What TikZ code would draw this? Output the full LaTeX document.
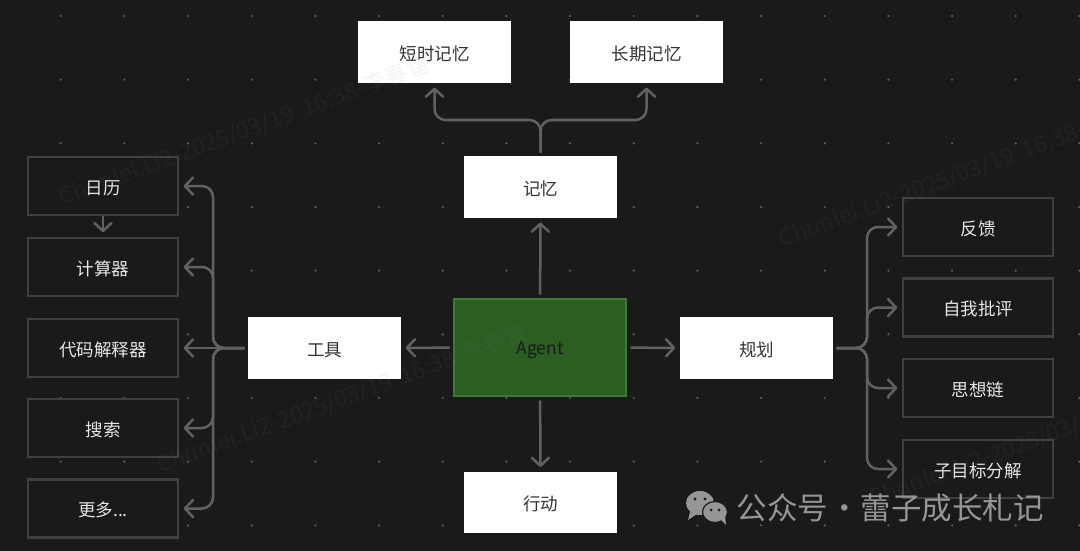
\documentclass[tikz,border=0pt]{standalone}
\usepackage{fontspec}
\setmainfont{Noto Sans CJK SC}
\usetikzlibrary{arrows.meta,calc}
\definecolor{bgc}{HTML}{1A1A1A}
\definecolor{dotc}{HTML}{606060}
\definecolor{edgec}{HTML}{404040}
\definecolor{linec}{HTML}{616161}
\definecolor{lighttext}{HTML}{E6E6E6}
\definecolor{darktext}{HTML}{333333}
\definecolor{greenfill}{HTML}{2B5F22}
\definecolor{greenedge}{HTML}{3E7A33}
\definecolor{brand}{HTML}{969696}
\tikzset{
  x=1pt,y=-1pt,
  boxtext/.style={text height=18pt,text depth=1.6pt,font=\fontsize{17.5pt}{20pt}\selectfont},
  lightbox/.style={boxtext,draw=none,fill=white,minimum width=153pt,minimum height=61.5pt,inner sep=0pt,text=darktext},
  darkbox/.style={boxtext,draw=edgec,line width=2.4pt,fill=bgc,minimum width=150pt,minimum height=58pt,inner sep=0pt,text=lighttext},
  agentbox/.style={text height=15pt,text depth=2pt,font=\fontsize{17.5pt}{20pt}\selectfont,draw=greenedge,line width=2pt,fill=greenfill,minimum width=172pt,minimum height=97pt,inner sep=0pt,text=bgc},
  conn/.style={draw=linec,line width=2.5pt,rounded corners=11pt,line join=round,-{Straight Barb[length=8pt,width=17pt,line width=2.5pt,round]},shorten >=4.5pt,shorten <=3.5pt},
  griddot/.style={fill=dotc},
  watermark/.style={text=gray,text opacity=.08,anchor=west,rotate=20,font=\fontsize{23pt}{26pt}\selectfont,inner sep=0pt},
}
\begin{document}
\begin{tikzpicture}
\useasboundingbox (0,0) rectangle (1080,551);
\fill[bgc] (0,0) rectangle (1080,551);
\foreach \i in {0,...,16}{\foreach \j in {0,...,8}{
  \fill[griddot] ({60.7+63.67*\i},{16+63.67*\j}) circle (1.2pt);
}}
% nodes
\node[agentbox] (agent) at (540,347.5) {Agent};
\node[lightbox] (tool) at (324.5,348) {工具};
\node[lightbox] (plan) at (756.5,348) {规划};
\node[lightbox] (mem) at (540.5,187) {记忆};
\node[lightbox] (act) at (540.5,502.5) {行动};
\node[lightbox] (stm) at (434.5,52) {短时记忆};
\node[lightbox] (ltm) at (646.5,52) {长期记忆};
\node[darkbox] (cal) at (103,186) {日历};
\node[darkbox] (calc) at (103,267) {计算器};
\node[darkbox] (code) at (103,348) {代码解释器};
\node[darkbox] (search) at (103,428) {搜索};
\node[darkbox] (more) at (103,508.5) {更多...};
\node[darkbox] (fb) at (978,227) {反馈};
\node[darkbox] (crit) at (978,307.5) {自我批评};
\node[darkbox] (cot) at (978,388) {思想链};
\node[darkbox] (sub) at (978,469) {子目标分解};
% junction helpers
\coordinate (ltrunk) at (213,348);
\coordinate (rtrunk) at (867,348);
\coordinate (ttrunk) at (540.5,120);
% connectors
\draw[conn] (agent) -- (mem);
\draw[conn] (agent) -- (act);
\draw[conn] (agent) -- (tool);
\draw[conn] (agent) -- (plan);
\draw[conn,shorten <=0pt] (cal.south) -- (calc.north);
\draw[conn] (tool.west) -- (code.east);
\foreach \t in {cal,calc,search,more}{
  \draw[conn] (tool.west) -- (ltrunk) -- (ltrunk |- \t.east) -- (\t.east);
}
\foreach \t in {fb,crit,cot,sub}{
  \draw[conn] (plan.east) -- (rtrunk) -- (rtrunk |- \t.west) -- (\t.west);
}
\foreach \t in {stm,ltm}{
  \draw[conn] (mem.north) -- (ttrunk) -- (ttrunk -| \t.south) -- (\t.south);
}
% watermarks
\begin{scope}
\clip (0,0) rectangle (1080,551);
\node[watermark] (wa) at (60,198) {Chunlei.Li2-2025/03/19\ \ 16:38-李春雷};
\node[watermark] (wb) at (158,466) {Chunlei.Li2-2025/03/19\ \ 16:38-李春雷};
\node[watermark] (wc) at (780,240) {Chunlei.Li2-2025/03/19\ \ 16:38-李春雷};
\node[watermark] (wd) at (870,500) {Chunlei.Li2-2025/03/19\ \ 16:38-李春雷};
\end{scope}
% brand
\fill[brand] (700,503) ellipse (14pt and 12pt);
\fill[brand] (690,512) -- (688,520) -- (697,514) -- cycle;
\fill[brand,draw=bgc,line width=1.2pt] (715,512) ellipse (12.5pt and 10.5pt);
\fill[brand] (720,519) -- (726,525) -- (725,515) -- cycle;
\fill[bgc] (695,499) circle (1.7pt) (705,499) circle (1.7pt) (711,510) circle (1.5pt) (719,510) circle (1.5pt);
\node[anchor=west,inner sep=0pt,text=brand,font=\fontsize{30.5pt}{34pt}\selectfont] (brandtext) at (736.5,508) {公众号\hspace{1pt}·\hspace{1pt}蕾子成长札记};
\end{tikzpicture}
\end{document}
